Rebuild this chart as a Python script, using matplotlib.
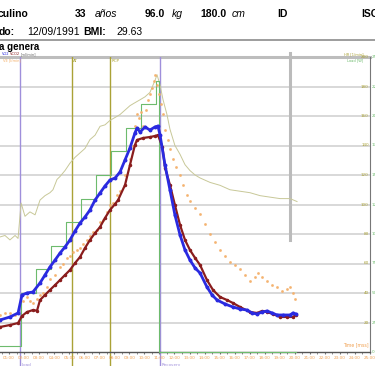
import matplotlib
matplotlib.use("Agg")
import matplotlib.pyplot as plt
import numpy as np

# time in minutes
vo2_t = [0.0, 0.4, 1.06, 1.6, 1.86, 2.19, 2.59, 3.06, 3.39, 3.72, 4.06, 4.39, 4.72, 5.05,
         5.39, 5.72, 6.05, 6.38, 6.72, 7.05, 7.38, 7.71, 8.05, 8.38, 8.71, 9.04, 9.37,
         9.51, 9.71, 10.04, 10.37, 10.7, 10.9, 11.04, 11.37, 11.7, 12.03, 12.37, 12.7,
         13.03, 13.37, 13.7, 14.16, 14.5, 14.83, 15.36, 15.89, 16.36, 16.82, 17.16,
         17.49, 17.82, 18.15, 18.49, 18.82, 19.22, 19.68, 19.88, 20.08]
vo2 = [430, 434, 475, 529, 773, 800, 814, 936, 1044, 1153, 1247, 1342, 1424, 1519,
       1641, 1749, 1831, 1925, 2061, 2156, 2251, 2332, 2359, 2441, 2603, 2766, 2969,
       3037, 2983, 3051, 3010, 3051, 3064, 2942, 2536, 2197, 1858, 1586, 1383,
       1247, 1139, 1071, 881, 773, 705, 651, 610, 583, 569, 529,
       515, 542, 556, 529, 502, 502, 502, 529, 515]

vco2_t = [0.0, 0.4, 1.06, 1.6, 1.86, 2.19, 2.59, 2.86, 3.06, 3.39, 3.72, 4.06, 4.39, 4.72,
          5.05, 5.39, 5.72, 6.05, 6.38, 6.72, 7.05, 7.38, 7.71, 8.05, 8.25, 8.71, 9.04,
          9.37, 9.51, 9.91, 10.37, 10.7, 10.9, 11.2, 11.37, 11.7, 12.03, 12.37, 12.7,
          13.03, 13.37, 13.7, 14.16, 14.56, 15.03, 15.49, 15.89, 16.36, 17.02, 17.49,
          17.82, 18.15, 18.55, 19.02, 19.48, 19.88, 20.08]
vco2 = [330, 339, 366, 393, 488, 542, 569, 560, 705, 773, 841, 908, 976, 1044,
        1112, 1207, 1288, 1410, 1519, 1614, 1695, 1817, 1925, 2007, 2061, 2264, 2536,
        2807, 2875, 2902, 2915, 2929, 2942, 2780, 2500, 2264, 1993, 1722, 1519,
        1383, 1275, 1180, 976, 841, 746, 705, 664, 610, 542, 529,
        556, 542, 515, 475, 475, 475, 502]

hr_t = [0.0, 0.4, 0.73, 1.06, 1.4, 1.6, 1.8, 2.06, 2.39, 2.73, 3.06, 3.39, 3.72, 3.92,
        4.19, 4.39, 4.72, 5.05, 5.39, 5.72, 6.05, 6.38, 6.72, 7.05, 7.38, 7.71, 8.05,
        8.38, 8.71, 9.04, 9.37, 9.71, 10.04, 10.37, 10.7, 10.84, 11.04, 11.24, 11.5,
        11.7, 12.03, 12.37, 12.7, 13.03, 13.37, 13.7, 14.36, 15.03, 15.69, 16.36,
        17.02, 17.69, 18.35, 19.02, 19.68, 20.15]
hr = [78, 78, 79, 76, 79, 77, 101, 92, 95, 93, 103, 106, 108, 110,
      117, 119, 123, 128, 132, 135, 138, 144, 147, 153, 154, 157, 159,
      161, 164, 167, 169, 171, 173, 176, 184, 188, 181, 171, 161,
      151, 140, 134, 127, 123, 120, 118, 115, 113, 110, 109,
      108, 106, 105, 104, 104, 102]

load_t = [0.0, 1.8, 1.8, 2.8, 2.8, 3.8, 3.8, 4.8, 4.8, 5.8, 5.8, 6.8, 6.8, 7.8, 7.8,
          8.8, 8.8, 9.8, 9.8, 10.8, 10.8, 11.0, 11.0, 20.1]
load = [5, 5, 50, 50, 70, 70, 90, 90, 110, 110, 130, 130, 150, 150, 170,
        170, 190, 190, 210, 210, 230, 230, 0, 0]

ve_t = [0.4, 0.73, 1.06, 1.4, 1.6, 1.93, 2.19, 2.39, 2.59, 2.86, 3.06, 3.26, 3.52, 3.72,
        4.06, 4.39, 4.59, 4.86, 5.05, 5.25, 5.52, 5.72, 5.92, 6.18, 6.38, 6.58, 6.85,
        7.05, 7.25, 7.52, 7.71, 7.91, 8.18, 8.38, 8.71, 9.04, 9.24, 9.37, 9.51, 9.64,
        9.77, 9.91, 10.11, 10.24, 10.37, 10.51, 10.64, 10.7, 10.84, 10.97, 11.11,
        11.24, 11.37, 11.57, 11.7, 11.9, 12.1, 12.37, 12.57, 12.83, 13.03, 13.37,
        13.7, 14.03, 14.36, 14.69, 15.03, 15.36, 15.69, 16.02, 16.36, 16.69, 17.02,
        17.35, 17.55, 17.82, 18.15, 18.49, 18.82, 19.15, 19.48, 19.68, 19.88, 20.01]
ve = [19, 20, 20, 19, 20, 26, 28, 26, 25, 27, 29, 30, 33, 37,
      39, 43, 45, 48, 49, 51, 52, 53, 55, 57, 59, 61, 62,
      66, 67, 71, 75, 76, 80, 82, 90, 98, 105, 115, 121, 119,
      122, 115, 123, 128, 131, 134, 138, 141, 136, 131, 126,
      121, 113, 108, 103, 98, 94, 90, 85, 80, 77, 73,
      70, 65, 60, 56, 52, 49, 46, 44, 42, 39, 36,
      38, 40, 38, 36, 34, 33, 31, 32, 33, 30, 27]

x_ticks = list(range(1, 26))
x_labels = ["%02d:00" % m for m in x_ticks]
hr_ticks = list(range(20, 201, 20))
load_ticks = list(range(25, 251, 25))

purple = "#9f8fdb"
olive = "#aaa236"
c_hr = "#c8c898"
c_load = "#6dbb6d"
c_vo2 = "#2a2ae0"
c_vco2 = "#8a1d1d"
c_ve = "#f4b06a"
c_orange_txt = "#f0a050"

fig = plt.figure(figsize=(3.75, 3.66), dpi=100)

# header text (pixel positions)
def ftext(x, y, s, **kw):
    fig.text(x / 375, 1 - y / 366, s, va="center", family="Liberation Sans", **kw)

ftext(-2, 14, "culino", fontsize=7.5, fontweight="bold")
ftext(75, 14, "33", fontsize=7.5, fontweight="bold")
ftext(95, 14, "años", fontsize=7.5, style="italic")
ftext(145, 14, "96.0", fontsize=7.5, fontweight="bold")
ftext(172, 14, "kg", fontsize=7.5, style="italic")
ftext(200, 14, "180.0", fontsize=7.5, fontweight="bold")
ftext(232, 14, "cm", fontsize=7.5, style="italic")
ftext(277, 14, "ID", fontsize=7.5, fontweight="bold")
ftext(361, 14, "ISO", fontsize=7.5, fontweight="bold")
ftext(-1, 32, "do:", fontsize=7.5, fontweight="bold")
ftext(27, 32, "12/09/1991", fontsize=7.5)
ftext(83, 32, "BMI:", fontsize=7.5, fontweight="bold")
ftext(116, 32, "29.63", fontsize=7.5)
ftext(-1, 47, "a genera", fontsize=7, fontweight="bold")
fig.add_artist(plt.Line2D([0, 1], [1 - 40 / 366, 1 - 40 / 366], color="#8c8c8c", lw=1.2))

ax = fig.add_axes([-6 / 375, 14 / 366, 376 / 375, 295 / 366])
ax.set_xlim(0, 25)
ax.set_ylim(0, 200)
for s in ["left", "top"]:
    ax.spines[s].set_visible(False)
ax.spines["bottom"].set_color("#555555")
ax.spines["right"].set_color("#777777")
ax.spines["bottom"].set_linewidth(1.0)
ax.spines["right"].set_linewidth(0.8)
ax.set_yticks(hr_ticks)
ax.set_yticklabels([])
ax.tick_params(axis="y", length=0)
ax.set_xticks(x_ticks)
ax.set_xticklabels([])
ax.set_xticks(np.arange(0, 25.01, 0.5), minor=True)
ax.tick_params(axis="x", which="both", length=1.5, color="#777777")
ax.grid(axis="y", color="#d6d6d6", lw=1.3)
ax.axhline(200, color="#bdbdbd", lw=2.2, clip_on=False)

# right axis labels
for v in hr_ticks:
    ax.text(24.92, v, str(v), color=olive, fontsize=3, ha="right", va="center")
for v in load_ticks:
    ax.text(25.1, v * 200 / 250, str(v), color=c_load, fontsize=3, ha="left", va="center")
ax.text(25.1, 0, "0", color=c_load, fontsize=3, ha="left", va="center")
ax.text(24.9, 3, "Time [mss]", color=c_orange_txt, fontsize=3.3, ha="right", va="bottom")
for m, lab in zip(x_ticks, x_labels):
    ax.text(m, -3, lab, color=c_orange_txt, fontsize=3, ha="center", va="top")

# event markers
events = [(1.73, "Load", purple), (11.04, "Recovery", purple)]
for tt, lab, c in events:
    ax.axvline(tt, color=c, lw=1.0, ymax=1.0)
    ax.plot([tt, tt], [0, -10], color=c, lw=1.0, clip_on=False)
    ax.text(tt + 0.08, -9, lab, color=c, fontsize=3, ha="left", va="center")
ax.text(0.45, -9, "ay", color=purple, fontsize=3, ha="right", va="center")
for tt, lab in [(5.19, "AT"), (7.71, "RCP")]:
    ax.axvline(tt, color=olive, lw=1.0)
    ax.plot([tt, tt], [0, -10], color=olive, lw=1.0, clip_on=False)
    ax.text(tt + 0.08, 197.5, lab, color=olive, fontsize=3, ha="left", va="center")
ax.plot([19.68, 19.68], [76, 203], color="#bbbbbb", lw=2.2, clip_on=False, zorder=3)

ax.plot(hr_t, hr, color=c_hr, lw=0.7, zorder=4)

ax_load = ax.twinx()
ax_load.set_ylim(0, 250)
ax_load.axis("off")
ax_load.plot(load_t, load, color=c_load, lw=0.8, clip_on=False)

ax_ve = ax.twinx()
ax_ve.set_ylim(0, 150)
ax_ve.axis("off")
ax_ve.plot(ve_t, ve, ".", color=c_ve, ms=2.2, alpha=0.8)

ax_v = ax.twinx()
ax_v.set_ylim(0, 4000)
ax_v.axis("off")
ax_v.plot(vco2_t, vco2, "-o", color=c_vco2, lw=1.6, ms=1.5)
ax_v.plot(vo2_t, vo2, "-o", color=c_vo2, lw=2.0, ms=1.8)

# legend texts
fig.text(2 / 375, 1 - 55 / 366, "VO2", color=c_vo2, fontsize=2.6)
fig.text(10 / 375, 1 - 55 / 366, "VCO2", color=c_vco2, fontsize=2.6)
fig.text(21 / 375, 1 - 55 / 366, "[ml/min]", color="#666666", fontsize=2.6)
fig.text(3 / 375, 1 - 61 / 366, "VE [l/min]", color=c_ve, fontsize=2.6)
fig.text(344 / 375, 1 - 55 / 366, "HR [1/min]", color=olive, fontsize=2.6)
fig.text(347 / 375, 1 - 61 / 366, "Load [W]", color=c_load, fontsize=2.6)

fig.savefig("out.png", dpi=100)
